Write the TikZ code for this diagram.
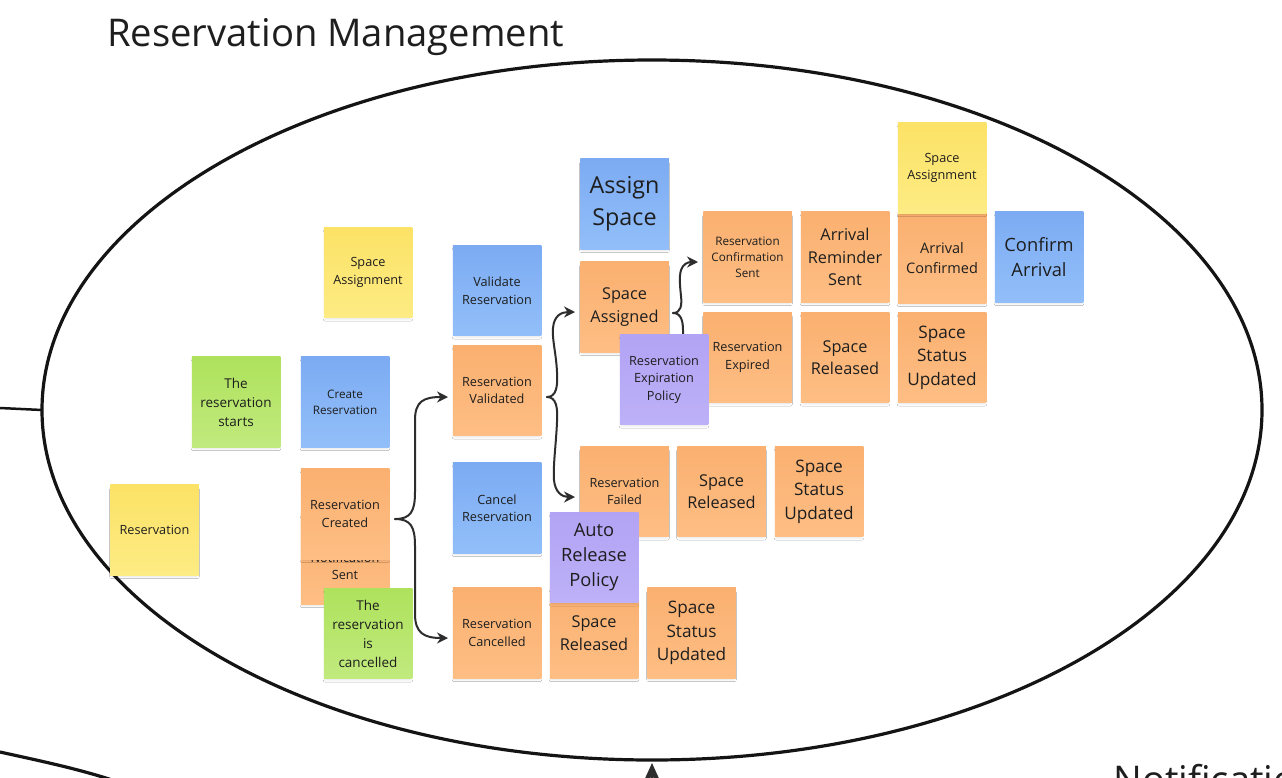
\documentclass[tikz,border=0pt]{standalone}
\usepackage{fontspec}
\setmainfont{Open Sans}
\usetikzlibrary{arrows.meta,shadows.blur,shapes.geometric}
\definecolor{orT}{RGB}{250,176,112}
\definecolor{orB}{RGB}{254,190,132}
\definecolor{blT}{RGB}{124,171,243}
\definecolor{blB}{RGB}{146,191,249}
\definecolor{yeT}{RGB}{252,226,102}
\definecolor{yeB}{RGB}{253,236,132}
\definecolor{grT}{RGB}{174,226,92}
\definecolor{grB}{RGB}{193,234,126}
\definecolor{puT}{RGB}{178,163,244}
\definecolor{puB}{RGB}{189,177,248}
\definecolor{ink}{RGB}{30,30,30}
\definecolor{arr}{RGB}{45,45,45}
\tikzset{
  note/.style={minimum width=88.5pt, minimum height=90.5pt, inner sep=0pt, outer sep=0pt,
    align=center, text=ink,
    blur shadow={shadow xshift=0pt, shadow yshift=-3pt, shadow blur radius=2.5pt, shadow opacity=12, shadow scale=0.96}},
  orN/.style={note, top color=orT, bottom color=orB},
  blN/.style={note, top color=blT, bottom color=blB},
  yeN/.style={note, top color=yeT, bottom color=yeB},
  grN/.style={note, top color=grT, bottom color=grB},
  puN/.style={note, top color=puT, bottom color=puB},
  tA/.style={font=\fontsize{11.7}{16.2}\selectfont},
  tB/.style={font=\fontsize{12.7}{17.5}\selectfont},
  tC/.style={font=\fontsize{13.5}{19}\selectfont},
  tD/.style={font=\fontsize{14.5}{19.5}\selectfont},
  tE/.style={font=\fontsize{16.3}{22.5}\selectfont},
  tF/.style={font=\fontsize{17.2}{23.4}\selectfont},
  tG/.style={font=\fontsize{18.3}{25}\selectfont},
  tH/.style={font=\fontsize{23.3}{32}\selectfont},
  flow/.style={draw=arr, line width=2pt, line cap=round, -{Stealth[length=11pt,width=11pt]}},
  frame/.style={draw=black!92, line width=3.2pt},
}
\begin{document}
\begin{tikzpicture}[x=1pt,y=-1pt]
\useasboundingbox (0,0) rectangle (1282,777);
\clip (0,0) rectangle (1282,777);
\fill[white] (0,0) rectangle (1282,777);

% title
\node[anchor=base west, font=\fontsize{38.2}{44}\selectfont, text=ink, inner sep=0pt] (title) at (107,46) {Reservation Management};

% bounded context ellipse
\node[frame, ellipse, minimum width=1220pt, minimum height=700pt, inner sep=0pt, outer sep=0pt] (ell) at (652,410) {};
\coordinate (leftEnd) at (0,408);
\draw[draw=black!92, line width=2.5pt] (leftEnd) -- (ell.west);

% neighbouring context outline and bottom arrow
\coordinate (nbA) at (0,752);
\coordinate (nbB) at (140,790);
\draw[frame] (nbA) .. controls (45,762) and (95,772) .. (nbB);
\coordinate (arrBase) at (652,800);
\draw[draw=arr, line width=2pt, -{Stealth[length=20pt,width=18pt]}] (arrBase) -- ([yshift=-3pt]ell.south);
\node[anchor=base west, font=\fontsize{38.2}{44}\selectfont, text=ink, inner sep=0pt] (notifTitle) at (1113,793) {Notification};

% connectors (drawn under the notes)
\coordinate (bA) at (395,519);
\coordinate (tA1) at (448,397);
\coordinate (tA2) at (448,638);
\draw[flow] (bA) .. controls (411,519) and (415,511) .. (415,492) -- (415,420) .. controls (415,401) and (424,397) .. (tA1);
\draw[flow] (bA) .. controls (411,519) and (415,527) .. (415,546) -- (415,614) .. controls (415,633) and (424,638) .. (tA2);

\coordinate (bB) at (547,397);
\coordinate (tB1) at (575,312);
\coordinate (tB2) at (575,497);
\draw[flow] (bB) .. controls (556,397) and (558,387) .. (557,372) .. controls (556,352) and (552,340) .. (553,328) .. controls (554,316) and (561,312) .. (tB1);
\draw[flow] (bB) .. controls (556,397) and (558,407) .. (557,422) .. controls (556,445) and (553,465) .. (554,480) .. controls (555,492) and (562,497) .. (tB2);

\coordinate (bC) at (673,313);
\coordinate (tC1) at (698,262);
\coordinate (tC2) at (700,358);
\draw[flow] (bC) .. controls (681,313) and (682,305) .. (681,296) .. controls (680,286) and (679,277) .. (681,270) .. controls (683,264) and (688,262) .. (tC1);
\draw[flow] (bC) .. controls (681,313) and (683,321) .. (683,330) -- (683,345) .. controls (683,354) and (689,358) .. (tC2);

% notes
\node[yeN, tB] (spaceAssignL) at (368,272.5) {Space\\Assignment};
\node[grN, tC] (starts) at (236,402) {The\\reservation\\starts};
\node[blN, tA] (createRes) at (345,402) {Create\\Reservation};
\node[yeN, tB] (reservationY) at (154.5,530) {Reservation};

\node[orN] (notif) at (345,559) {};
\node[tB, text=ink, align=center, inner sep=0pt] (notifText) at (345,566) {Notification\\Sent};
\node[orN, tB] (resCreated) at (345,514) {Reservation\\Created};
\node[grN, tC] (resCancelledEv) at (368,633.5) {The\\reservation\\is\\cancelled};

\node[blN, tB] (validate) at (497,290.5) {Validate\\Reservation};
\node[orN, tB] (validated) at (497,390.5) {Reservation\\Validated};
\node[blN, tB] (cancel) at (497,508) {Cancel\\Reservation};
\node[orN, tB] (cancelled) at (497,633) {Reservation\\Cancelled};

\node[blN, tH] (assignSpace) at (624.5,204) {Assign\\Space};
\node[orN, tE] (spaceAssigned) at (624.5,307) {Space\\Assigned};
\node[orN, tB] (resFailed) at (624.5,491.5) {Reservation\\Failed};
\node[orN, tE] (released1) at (721.5,491.5) {Space\\Released};
\node[orN, tF] (status1) at (819,491.5) {Space\\Status\\Updated};
\node[orN, tE] (released2) at (594,633) {Space\\Released};
\node[orN, tF] (status2) at (691.5,633) {Space\\Status\\Updated};
\node[puN, tG] (autoRelease) at (594,557.5) {Auto\\Release\\Policy};

\node[orN, tA] (confSent) at (747.5,257) {Reservation\\Confirmation\\Sent};
\node[orN, tE] (reminder) at (845,257) {Arrival\\Reminder\\Sent};
\node[orN, tD] (arrConfirmed) at (942,258) {Arrival\\Confirmed};
\node[yeN, tB] (spaceAssignR) at (942,168) {Space\\Assignment};
\node[blN, tG] (confirmArrival) at (1039,257) {Confirm\\Arrival};
\node[orN, tB] (expired) at (747.5,357.5) {Reservation\\Expired};
\node[orN, tE] (released3) at (845,357.5) {Space\\Released};
\node[orN, tF] (status3) at (942,357.5) {Space\\Status\\Updated};
\node[puN, tB] (expPolicy) at (664,379.5) {Reservation\\Expiration\\Policy};
\end{tikzpicture}
\end{document}
